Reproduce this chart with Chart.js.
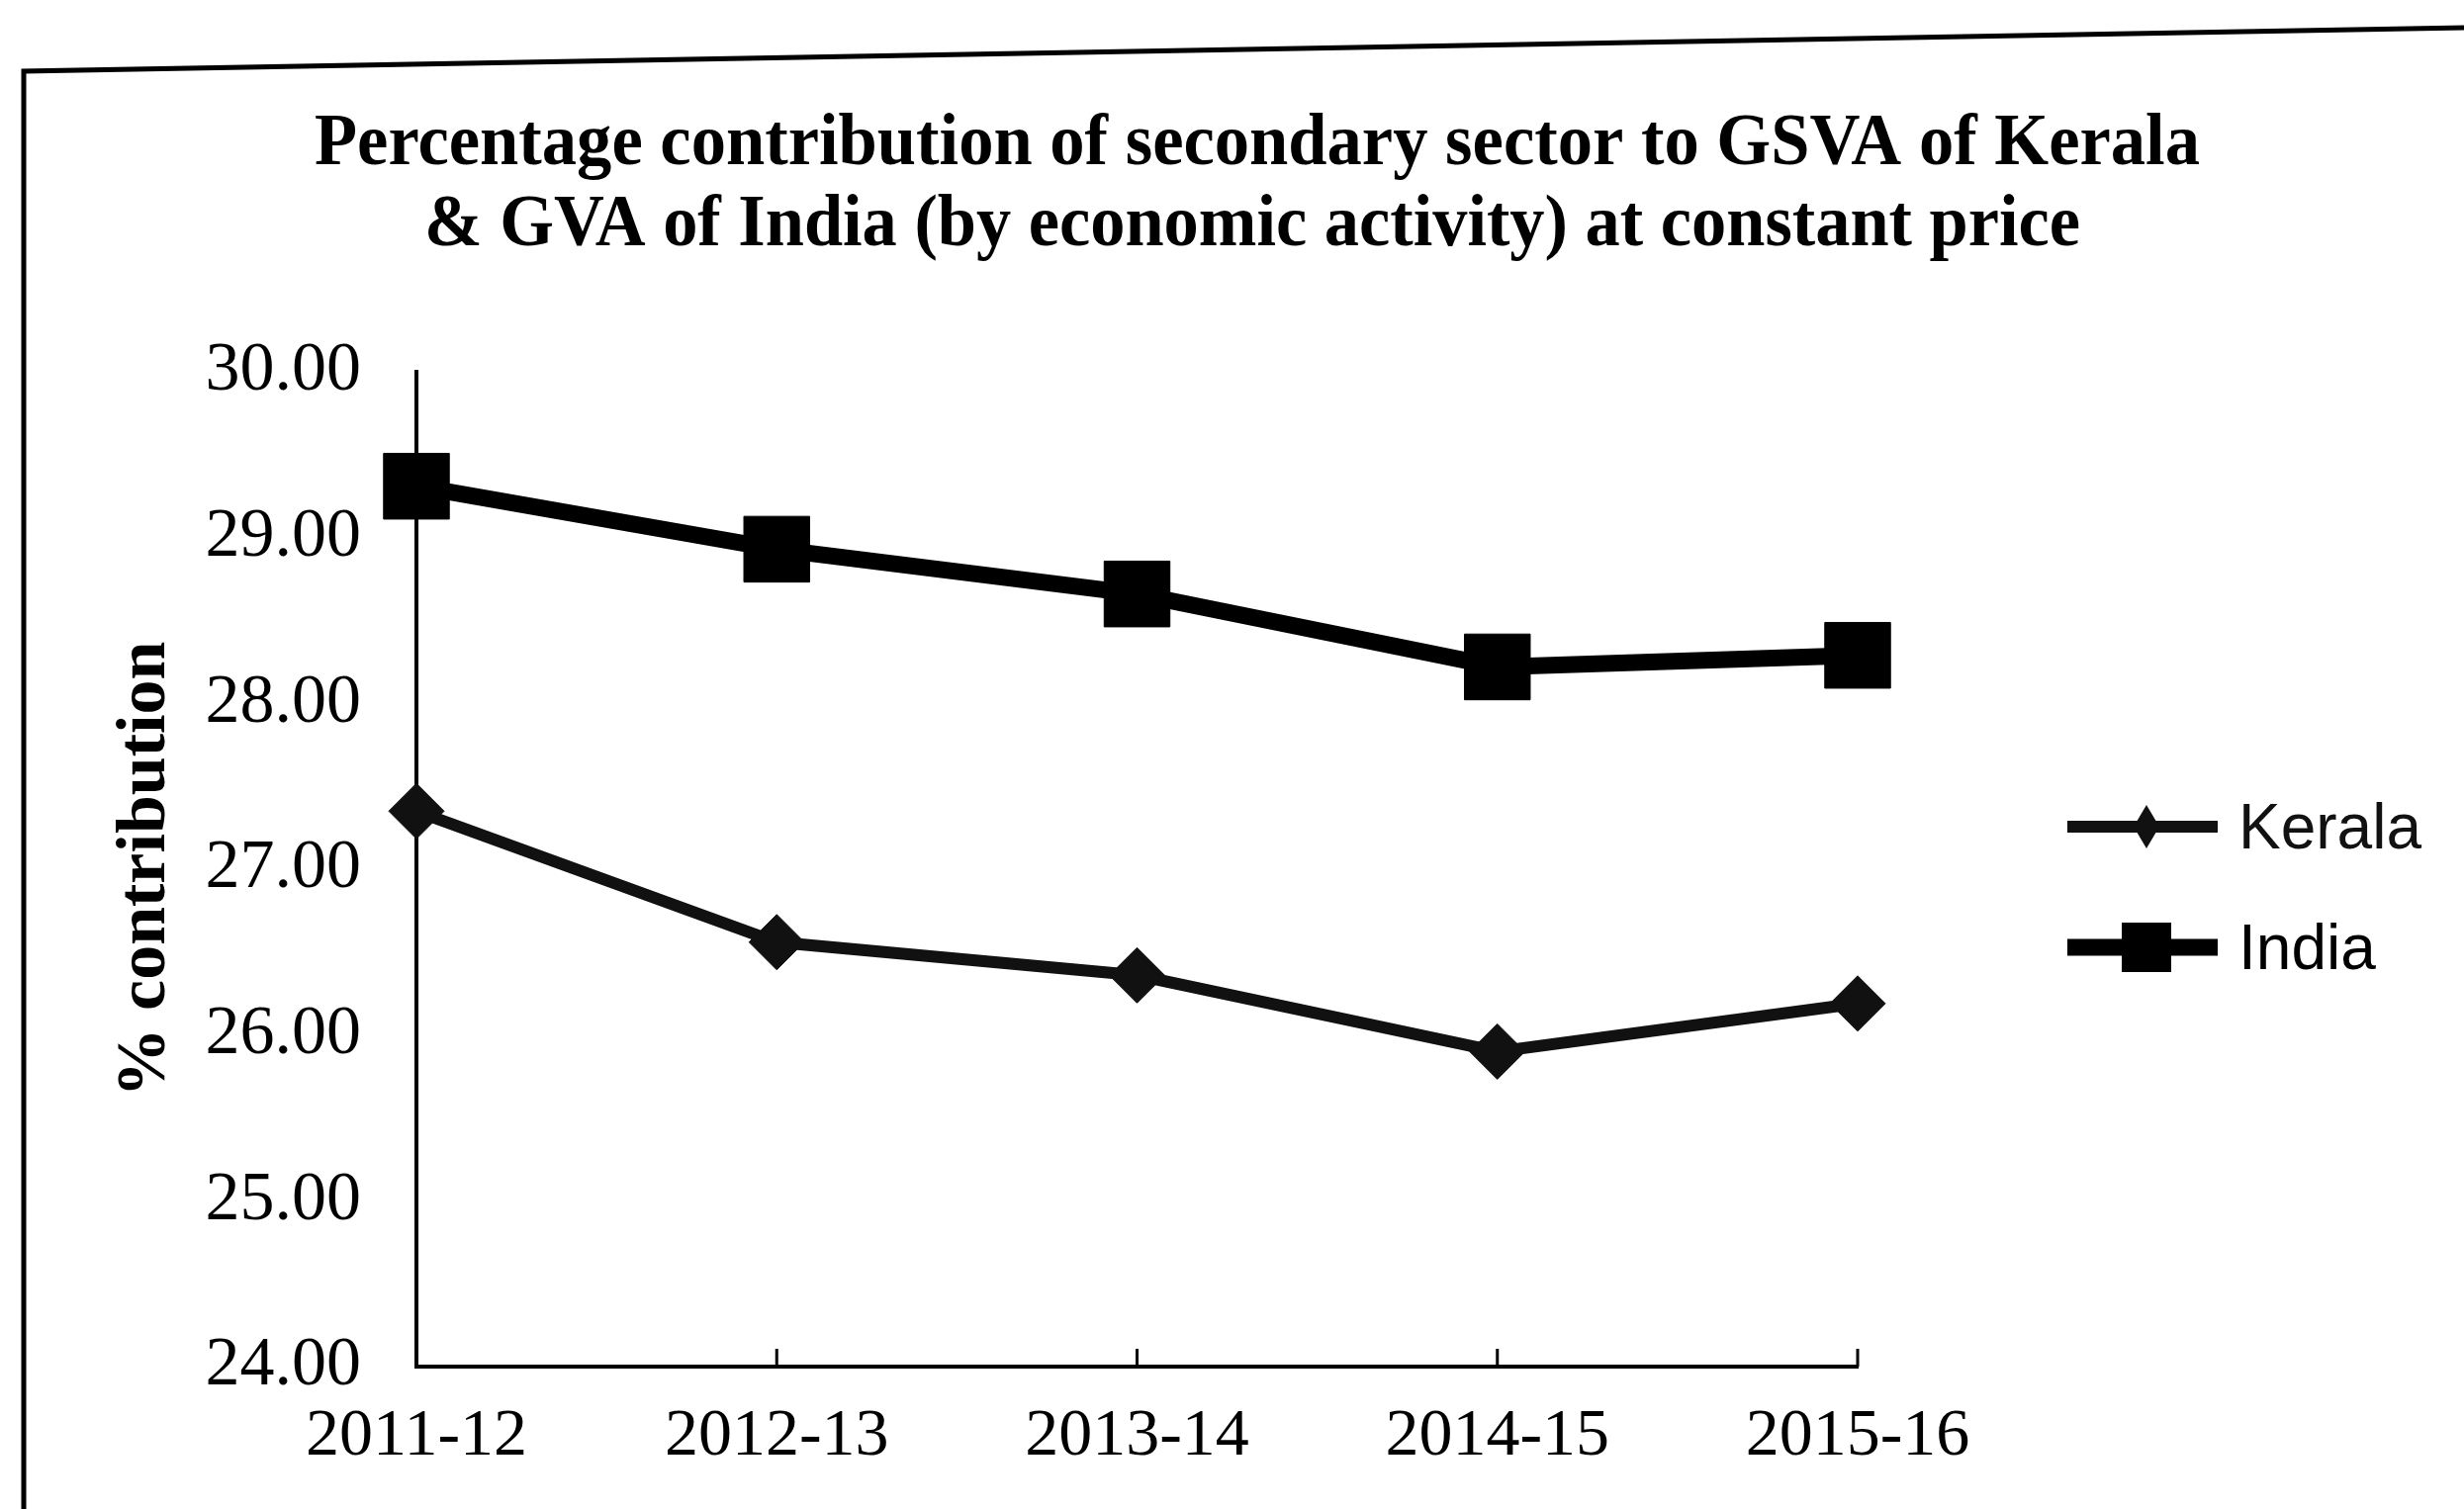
<!DOCTYPE html>
<html><head><meta charset="utf-8">
<script src="https://cdn.jsdelivr.net/npm/chart.js@4.4.1/dist/chart.umd.min.js"></script>
<style>html,body{margin:0;padding:0;background:#fff}#wrap{width:2491px;height:1526px}</style>
</head><body><div id="wrap"><canvas id="c" width="2491" height="1526"></canvas></div>
<script>
const categories = ['2011-12', '2012-13', '2013-14', '2014-15', '2015-16'];
const keralaValues = [27.35, 26.56, 26.36, 25.90, 26.19];
const indiaValues = [29.31, 28.93, 28.66, 28.22, 28.29];
const seriesLabels = ['Kerala', 'India'];
const titleLines = ['Percentage contribution of secondary sector to GSVA of Kerala',
                    '& GVA of India (by economic activity) at constant price'];
const yAxisTitle = '% contribution';
const yMin = 24, yMax = 30, yStep = 1;

const decor = {
  id: 'decor',
  afterDraw(chart) {
    const ctx = chart.ctx;
    ctx.save();
    // frame (scanned border)
    ctx.strokeStyle = '#000';
    ctx.lineWidth = 5;
    ctx.beginPath();
    ctx.moveTo(24, 1526); ctx.lineTo(24, 72); ctx.lineTo(2491, 28);
    ctx.stroke();

    // title
    ctx.fillStyle = '#000';
    ctx.textAlign = 'center';
    ctx.textBaseline = 'alphabetic';
    ctx.font = 'bold 74px "Liberation Serif"';
    const tspec = [{cx: 1271, by: 166, w: 1906}, {cx: 1266, by: 248, w: 1674}];
    titleLines.forEach((line, i) => {
      const m = ctx.measureText(line).width;
      ctx.save();
      ctx.translate(tspec[i].cx, tspec[i].by);
      ctx.scale(tspec[i].w / m, 1);
      ctx.fillText(line, 0, 0);
      ctx.restore();
    });

    // inward tick marks on x axis
    const xs = chart.scales.x;
    ctx.lineWidth = 3;
    for (let i = 1; i < xs.ticks.length; i++) {
      const px = xs.getPixelForTick(i);
      ctx.beginPath();
      ctx.moveTo(px, xs.top);
      ctx.lineTo(px, xs.top - 18);
      ctx.stroke();
    }

    // legend
    const ys = [836, 958];
    chart.data.datasets.forEach((ds, i) => {
      const y = ys[i];
      ctx.strokeStyle = ds.borderColor;
      ctx.fillStyle = ds.borderColor;
      ctx.lineWidth = i === 0 ? 12 : 17;
      ctx.beginPath();
      ctx.moveTo(2090, y); ctx.lineTo(2242, y);
      ctx.stroke();
      const mx = 2170;
      ctx.beginPath();
      if (ds.pointStyle === 'rectRot') {
        ctx.moveTo(mx, y - 22); ctx.lineTo(mx + 13, y); ctx.lineTo(mx, y + 22); ctx.lineTo(mx - 13, y);
        ctx.closePath();
      } else {
        ctx.rect(mx - 25, y - 25, 50, 50);
      }
      ctx.fill();
      ctx.font = '64px "Liberation Sans"';
      ctx.textAlign = 'left';
      ctx.textBaseline = 'alphabetic';
      ctx.fillText(ds.label, 2263, y + 22);
    });
    ctx.restore();
  }
};

new Chart(document.getElementById('c'), {
  type: 'line',
  data: {
    labels: categories,
    datasets: [
      {
        label: seriesLabels[0], data: keralaValues,
        borderColor: '#111', backgroundColor: '#111', borderWidth: 12,
        pointStyle: 'rectRot', pointRadius: 28, pointBackgroundColor: '#111',
        pointBorderColor: '#111', pointBorderWidth: 1, tension: 0, fill: false
      },
      {
        label: seriesLabels[1], data: indiaValues,
        borderColor: '#000', backgroundColor: '#000', borderWidth: 17,
        pointStyle: 'rect', pointRadius: 47, pointBackgroundColor: '#000',
        pointBorderColor: '#000', pointBorderWidth: 1, tension: 0, fill: false
      }
    ]
  },
  options: {
    responsive: false,
    animation: false,
    devicePixelRatio: 1,
    layout: { padding: { left: 0, right: 613, top: 376, bottom: 0 } },
    plugins: { legend: { display: false }, title: { display: false }, tooltip: { enabled: false } },
    scales: {
      x: {
        type: 'category',
        offset: false,
        grid: { display: false, drawTicks: false },
        border: { display: true, color: '#000', width: 4 },
        ticks: { color: '#000', font: { family: 'Liberation Serif', size: 68 }, padding: 30, maxRotation: 0, autoSkip: false },
        afterFit(s) { s.height = 144; }
      },
      y: {
        min: yMin, max: yMax,
        grid: { display: false, drawTicks: false },
        border: { display: true, color: '#000', width: 4 },
        ticks: { stepSize: yStep, color: '#000', font: { family: 'Liberation Serif', size: 70 }, padding: 56,
                 callback: v => Number(v).toFixed(2) },
        title: { display: true, text: yAxisTitle, color: '#000',
                 font: { family: 'Liberation Serif', size: 70, weight: 'bold' }, padding: { top: 106, bottom: 0 } },
        afterFit(s) { s.width = 421; }
      }
    }
  },
  plugins: [decor]
});
</script>
</body></html>
